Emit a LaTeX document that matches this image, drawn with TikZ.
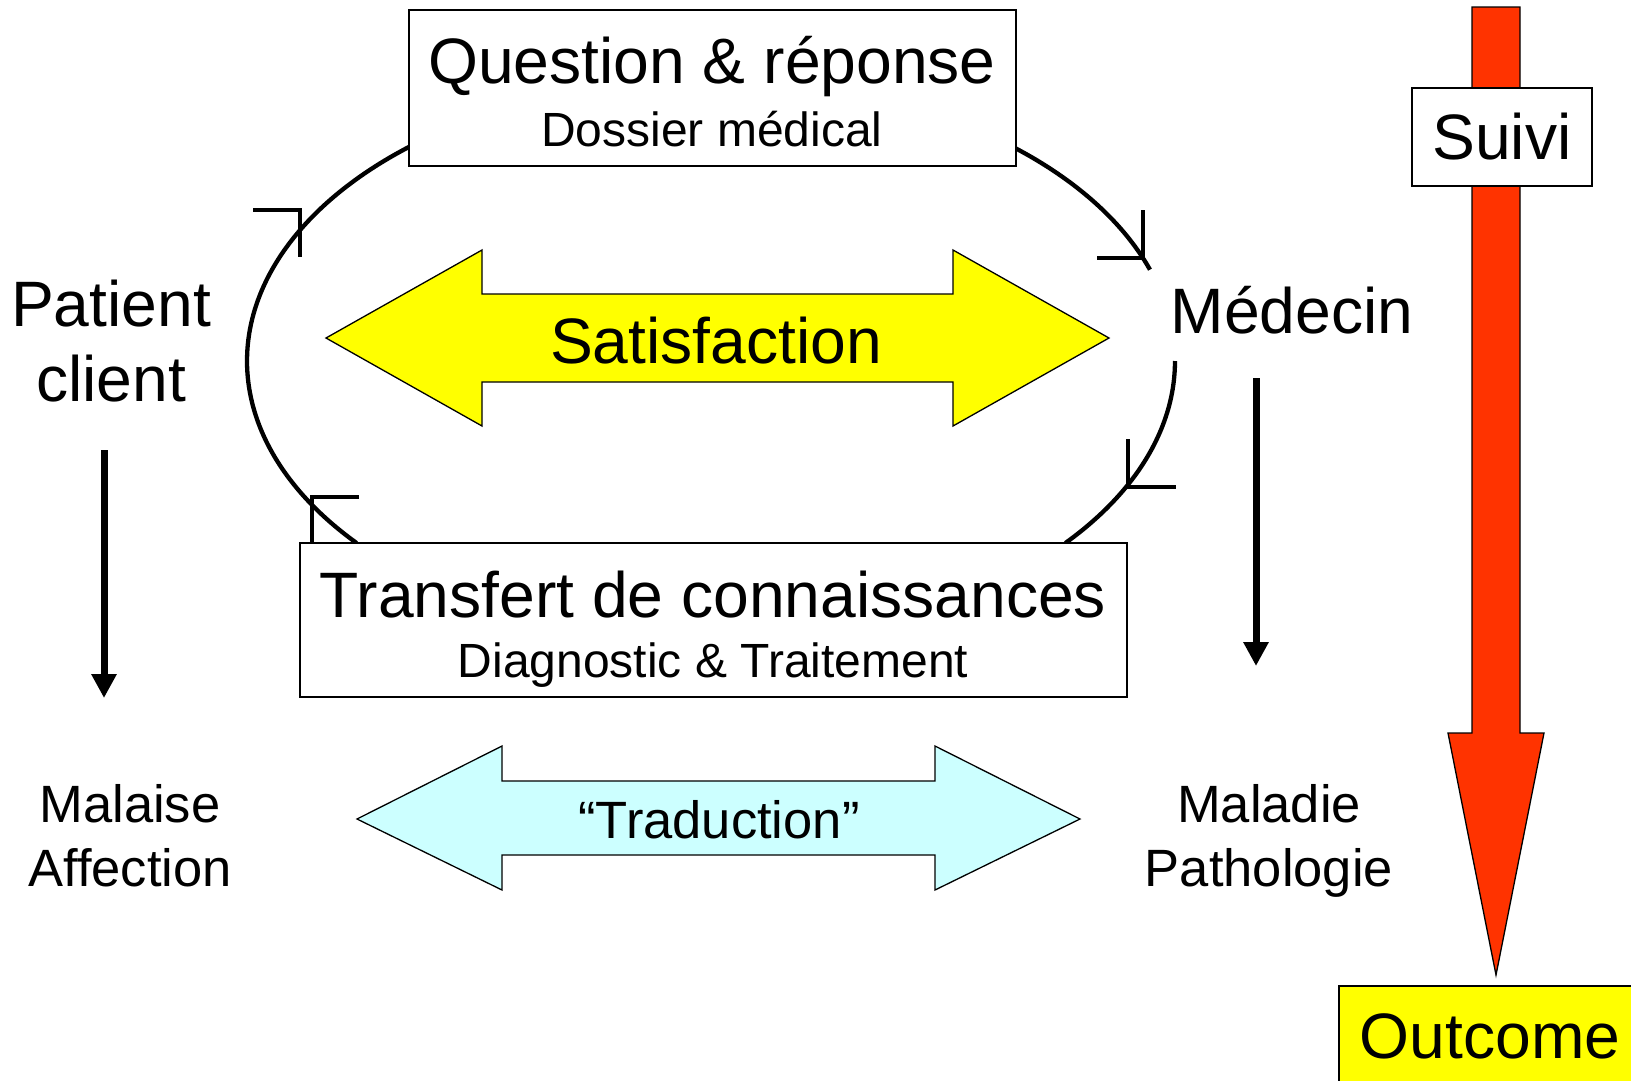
\documentclass[tikz,border=0pt]{standalone}
\usepackage{fontspec}
\setmainfont{Liberation Sans}
\usetikzlibrary{arrows.meta}
\definecolor{ayellow}{HTML}{FFFF00}
\definecolor{acyan}{HTML}{CCFFFF}
\definecolor{ared}{HTML}{FF3300}
\begin{document}
\begin{tikzpicture}[x=1pt,y=-1pt,
  box/.style={draw=black,line width=1.8pt,fill=white,inner sep=0pt},
  big/.style={font=\fontsize{64.2}{76}\selectfont},
  mid/.style={font=\fontsize{48}{57}\selectfont},
  lab/.style={font=\fontsize{52.5}{64}\selectfont},
  txt/.style={anchor=base,inner sep=0pt},
  ring/.style={line width=4.3pt},
  corner/.style={line width=4.3pt,line join=miter},
  fat/.style={draw=black,line width=1.3pt,line join=miter},
  down/.style={line width=7pt,-{Triangle[width=24pt,length=24pt]}}]
\useasboundingbox (0,0) rectangle (1631,1080);
\clip (0,0) rectangle (1631,1080);
% cycle arcs
\draw[ring] plot[domain=18.9:220.2, samples=150, smooth] ({711+464*cos(\x)},{361-282*sin(\x)});
\draw[ring] plot[domain=-40.2:0, samples=50, smooth] ({711+464*cos(\x)},{361-282*sin(\x)});
% corner marks
\draw[corner] (253,210) -- (300,210) -- (300,257);
\draw[corner] (1143,210) -- (1143,258) -- (1097,258);
\draw[corner] (1128,439) -- (1128,487) -- (1176,487);
\draw[corner] (359,497) -- (312,497) -- (312,545);
% boxes
\node[box,minimum width=607pt,minimum height=156pt] (qr) at (712.5,88) {};
\node[box,minimum width=827pt,minimum height=154pt] (tc) at (713.5,620) {};
\node[txt,big] (qrt) at (712,83) {Question \& réponse};
\node[txt,mid] (qrs) at (712,146) {Dossier médical};
\node[txt,big] (tct) at (713,617) {Transfert de connaissances};
\node[txt,mid] (tcs) at (713,677) {Diagnostic \& Traitement};
% satisfaction arrow
\draw[fat,fill=ayellow] (326,338) -- (482,250) -- (482,294) -- (953,294) -- (953,250) -- (1109,338)
  -- (953,426) -- (953,382) -- (482,382) -- (482,426) -- cycle;
\node[txt,big] (sat) at (716,363) {Satisfaction};
% traduction arrow
\draw[fat,fill=acyan] (357,819) -- (502,746) -- (502,781) -- (935,781) -- (935,746) -- (1080,819)
  -- (935,890) -- (935,855) -- (502,855) -- (502,890) -- cycle;
\node[txt,lab] (trad) at (719,838) {“Traduction”};
% side labels
\node[txt,big] (pat1) at (111,326) {Patient};
\node[txt,big] (pat2) at (111,401) {client};
\node[txt,big] (med) at (1292,333) {Médecin};
\node[txt,lab] (mal1) at (130,822) {Malaise};
\node[txt,lab] (mal2) at (130,886) {Affection};
\node[txt,lab] (mad1) at (1269,822) {Maladie};
\node[txt,lab] (mad2) at (1269,886) {Pathologie};
% down arrows
\coordinate (la) at (104,450);
\coordinate (lb) at (104,698);
\coordinate (ra) at (1256,378);
\coordinate (rb) at (1256,666);
\draw[down] (la) -- (lb);
\draw[down] (ra) -- (rb);
% red arrow
\draw[fat,fill=ared] (1472,7) -- (1520,7) -- (1520,733) -- (1544,733) -- (1496,975) -- (1448,733) -- (1472,733) -- cycle;
\node[box,minimum width=180pt,minimum height=98pt] (suivi) at (1502,137) {};
\node[txt,big] (suivit) at (1502,159) {Suivi};
\node[box,fill=ayellow,minimum width=361pt,minimum height=134pt] (out) at (1519.5,1053) {};
\node[txt,big] (outt) at (1490,1058) {Outcome};
\end{tikzpicture}
\end{document}
